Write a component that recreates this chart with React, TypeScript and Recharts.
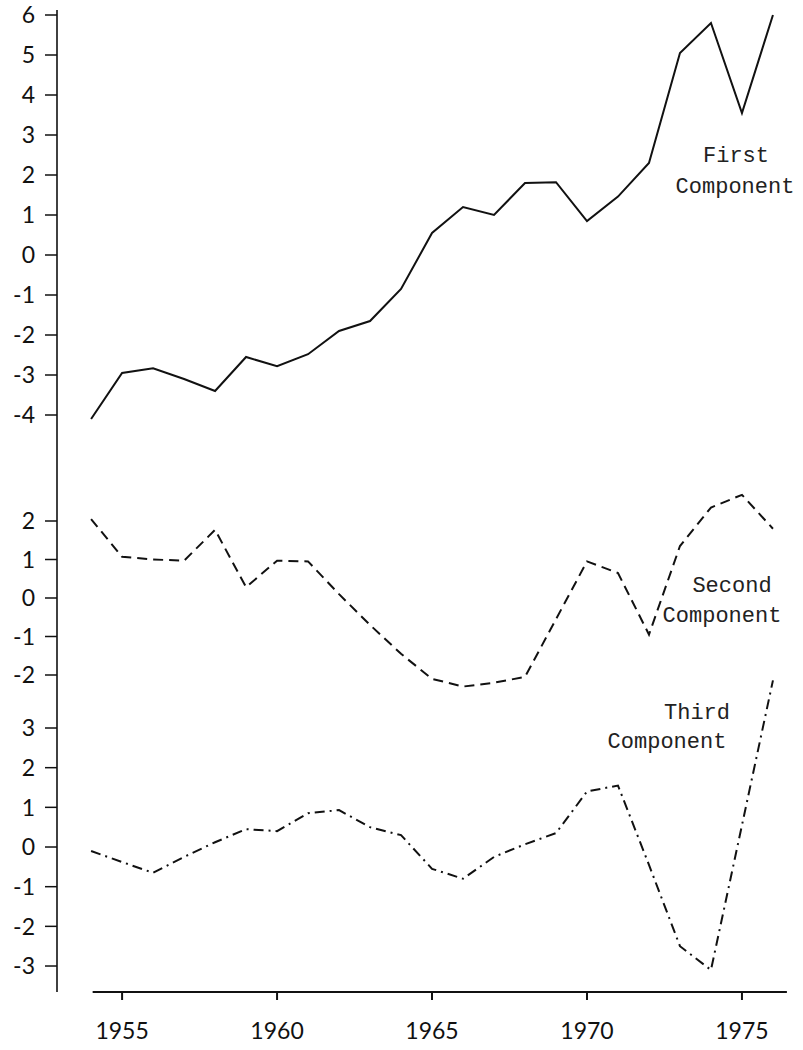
import { LineChart, Line, XAxis, YAxis, ReferenceLine } from "recharts";

const years = [
  1954, 1955, 1956, 1957, 1958, 1959, 1960, 1961, 1962, 1963, 1964, 1965,
  1966, 1967, 1968, 1969, 1970, 1971, 1972, 1973, 1974, 1975, 1976,
];
const firstComponent = [
  -4.1, -2.95, -2.83, -3.1, -3.4, -2.55, -2.78, -2.48, -1.9, -1.65, -0.85, 0.55,
  1.2, 1.0, 1.8, 1.82, 0.85, 1.46, 2.3, 5.05, 5.8, 3.55, 6.0,
];
const secondComponent = [
  2.05, 1.07, 1.0, 0.97, 1.77, 0.28, 0.97, 0.95, 0.1, -0.7, -1.45, -2.1,
  -2.3, -2.2, -2.05, -0.55, 0.95, 0.65, -0.95, 1.35, 2.35, 2.68, 1.8,
];
const thirdComponent = [
  -0.1, -0.38, -0.65, -0.25, 0.12, 0.45, 0.4, 0.85, 0.93, 0.5, 0.3, -0.55,
  -0.8, -0.25, 0.07, 0.35, 1.4, 1.55, -0.45, -2.5, -3.1, 0.55, 4.2,
];
const yearTicks = [1955, 1960, 1965, 1970, 1975];
const firstTicks = [6, 5, 4, 3, 2, 1, 0, -1, -2, -3, -4];
const secondTicks = [2, 1, 0, -1, -2];
const thirdTicks = [3, 2, 1, 0, -1, -2, -3];

const data = years.map((year, i) => ({
  year,
  first: firstComponent[i],
  second: secondComponent[i],
  third: thirdComponent[i],
}));

const W = 803;
const H = 1050;
const MARGIN = { top: 10, right: 13, bottom: 0, left: 0 };
const X_DOMAIN: [number, number] = [1952.9, 1976.55];
const tickFont = { fill: "#111", fontSize: 23, fontFamily: "Lato, 'Open Sans', sans-serif" };

type PanelProps = {
  dataKey: string;
  domain: [number, number];
  ticks: number[];
  dash?: string;
  showYLine?: boolean;
  showX?: boolean;
};

// one overlaid chart per component, all sharing the same plot box
function Panel({ dataKey, domain, ticks, dash, showYLine, showX }: PanelProps) {
  return (
    <div style={{ position: "absolute", left: 0, top: 0 }}>
      <LineChart width={W} height={H} data={data} margin={MARGIN}>
        <XAxis
          dataKey="year"
          type="number"
          domain={X_DOMAIN}
          allowDataOverflow
          ticks={showX ? yearTicks : []}
          height={58}
          axisLine={false}
          tickLine={showX ? { stroke: "#111", strokeWidth: 2 } : false}
          tick={showX ? tickFont : false}
          tickSize={8}
          tickMargin={23}
        />
        <YAxis
          domain={domain}
          allowDataOverflow
          ticks={ticks}
          interval={0}
          width={57}
          axisLine={showYLine ? { stroke: "#111", strokeWidth: 1.6 } : false}
          tickLine={{ stroke: "#111", strokeWidth: 1.5 }}
          tickSize={12}
          tickMargin={10}
          tick={tickFont}
        />
        {showX && (
          <ReferenceLine
            segment={[
              { x: 1954.05, y: domain[0] },
              { x: 1976.45, y: domain[0] },
            ]}
            stroke="#111"
            strokeWidth={2}
          />
        )}
        <Line
          type="linear"
          dataKey={dataKey}
          stroke="#111"
          strokeWidth={2}
          strokeDasharray={dash}
          dot={false}
          isAnimationActive={false}
        />
      </LineChart>
    </div>
  );
}

const noteStyle = {
  position: "absolute" as const,
  transform: "translate(-50%, -50%)",
  fontFamily: "'Liberation Mono', 'DejaVu Sans Mono', monospace",
  fontSize: 22,
  color: "#222",
  whiteSpace: "nowrap" as const,
  lineHeight: 1,
};

export default function App() {
  return (
    <div style={{ position: "absolute", left: 0, top: 0, width: W, height: H, background: "#fff" }}>
      <Panel dataKey="first" domain={[-18.425, 6.125]} ticks={firstTicks} showYLine />
      <Panel dataKey="second" domain={[-10.234, 15.273]} ticks={secondTicks} dash="10 6" />
      <Panel dataKey="third" domain={[-3.655, 21.1]} ticks={thirdTicks} dash="10 5 2 5" showX />
      <div style={{ ...noteStyle, left: 736, top: 157 }}>First</div>
      <div style={{ ...noteStyle, left: 735, top: 188 }}>Component</div>
      <div style={{ ...noteStyle, left: 732, top: 587 }}>Second</div>
      <div style={{ ...noteStyle, left: 722, top: 617 }}>Component</div>
      <div style={{ ...noteStyle, left: 697, top: 714 }}>Third</div>
      <div style={{ ...noteStyle, left: 667, top: 743 }}>Component</div>
    </div>
  );
}
